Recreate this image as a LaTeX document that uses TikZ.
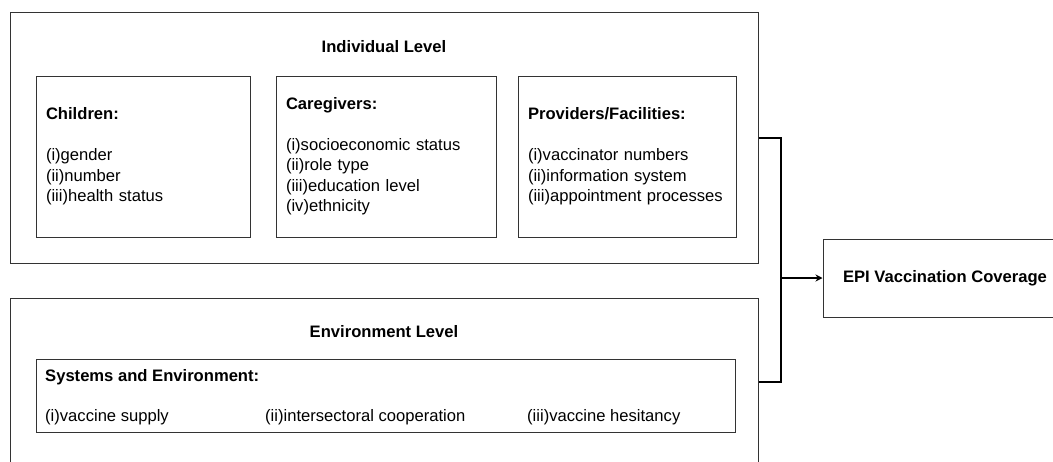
\documentclass[tikz,border=0pt]{standalone}
\usepackage{fontspec}
\setmainfont{Liberation Sans}
\usetikzlibrary{arrows.meta}
\newcommand{\myfs}{\fontsize{16.6}{20.4}\selectfont}
\tikzset{
  box/.style={draw=black!80, line width=1pt, rectangle, inner sep=0pt, font=\myfs},
  inbox/.style={draw=black!80, line width=1pt, rectangle, inner xsep=10pt, inner ysep=0pt, align=left, anchor=center, font=\myfs},
  lbl/.style={inner sep=0pt, font=\myfs\bfseries},
  txt/.style={inner sep=0pt, anchor=west, font=\myfs},
  conn/.style={draw=black, line width=2pt},
}
\begin{document}
\begin{tikzpicture}[x=1pt,y=-1pt, font=\myfs]
\clip (0,0) rectangle (1053,461);
% Individual level
\node[box, minimum width=748pt, minimum height=251pt] (ind) at (384,137.5) {};
\node[lbl] (indt) at (384,47) {Individual Level};
\node[inbox, minimum width=214pt, minimum height=161pt, text width=194pt] (child) at (143,156.5)
  {\textbf{Children:}\\[\baselineskip](i)gender\\(ii)number\\(iii)health status};
\node[inbox, minimum width=220pt, minimum height=161pt, text width=200pt] (care) at (386,156.5)
  {\textbf{Caregivers:}\\[\baselineskip](i)socioeconomic status\\(ii)role type\\(iii)education level\\(iv)ethnicity};
\node[inbox, minimum width=218pt, minimum height=161pt, text width=198pt] (prov) at (627,156.5)
  {\textbf{Providers/Facilities:}\\[\baselineskip](i)vaccinator numbers\\(ii)information system\\(iii)appointment processes};
% Environment level
\node[box, minimum width=748pt, minimum height=168pt] (env) at (384,382) {};
\node[lbl] (envt) at (384,332) {Environment Level};
\node[box, minimum width=699pt, minimum height=73pt] (sys) at (385.5,395.5) {};
\node[txt, font=\myfs\bfseries] (syst) at (45,377) {Systems and Environment:};
\node[txt] (s1) at (45,417) {(i)vaccine supply};
\node[txt] (s2) at (265,417) {(ii)intersectoral cooperation};
\node[txt] (s3) at (527,417) {(iii)vaccine hesitancy};
% Outcome
\node[box, minimum width=244pt, minimum height=78pt, font=\myfs\bfseries] (epi) at (945,278) {EPI Vaccination Coverage};
% Connectors
\coordinate (jx) at (781,278);
\draw[conn] (ind.east) -| (jx) |- (env.east);
\draw[conn, -{Stealth[length=7pt,width=7pt]}] (jx) -- (epi.west);
\end{tikzpicture}
\end{document}
